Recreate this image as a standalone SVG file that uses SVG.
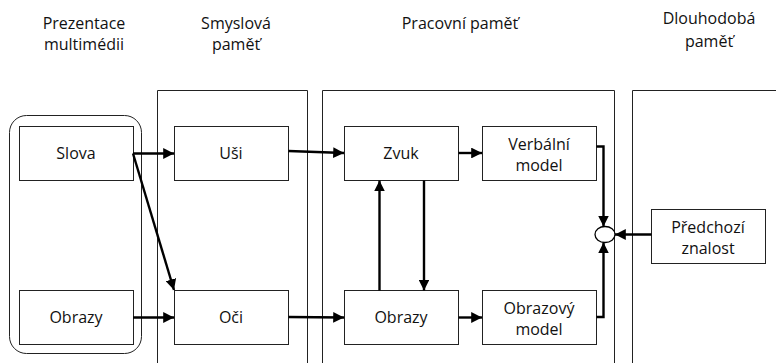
<svg xmlns="http://www.w3.org/2000/svg" width="776" height="363" viewBox="0 0 776 363">
  <defs>
    <marker id="arrow" viewBox="0 0 10 10" refX="10" refY="5" markerWidth="4.5" markerHeight="4.5" orient="auto" markerUnits="strokeWidth">
      <path d="M0,0 L10,5 L0,10 z" fill="#000"/>
    </marker>
    <style>
      text { font-family: "Open Sans", "Noto Sans", sans-serif; font-size: 16px; fill: #111; text-anchor: middle; }
      .panel { fill: none; stroke: #222; stroke-width: 1; }
      .box { fill: #fff; stroke: #222; stroke-width: 1; }
      .link { fill: none; stroke: #000; stroke-width: 2.4; }
      .arr { marker-end: url(#arrow); }
    </style>
  </defs>
  <rect width="776" height="363" fill="#fff"/>

  <!-- column headings -->
  <g id="headings">
    <text x="84" y="29">Prezentace</text>
    <text x="84" y="50">multimédii</text>
    <text x="236" y="29">Smyslová</text>
    <text x="236" y="50">paměť</text>
    <text x="460" y="29">Pracovní paměť</text>
    <text x="709" y="24">Dlouhodobá</text>
    <text x="709" y="47">paměť</text>
  </g>

  <!-- memory stage panels -->
  <g id="panels">
    <rect id="multimedia" class="panel" x="9.5" y="115.5" width="132" height="238" rx="17"/>
    <path id="sensory" class="panel" d="M157.5,364 V90.5 H307.5 V364"/>
    <path id="working" class="panel" d="M322.5,364 V90.5 H614.5 V364"/>
    <path id="longterm" class="panel" d="M632.5,364 V90.5 H777"/>
  </g>

  <g id="slova"><rect class="box" x="19.5" y="126.5" width="114" height="54"/><text x="76" y="159">Slova</text></g>
  <g id="obrazy-in"><rect class="box" x="19.5" y="290.5" width="114" height="54"/><text x="76" y="323">Obrazy</text></g>
  <g id="usi"><rect class="box" x="174.5" y="126.5" width="114" height="54"/><text x="231" y="159">Uši</text></g>
  <g id="oci"><rect class="box" x="174.5" y="290.5" width="114" height="54"/><text x="231" y="323">Oči</text></g>
  <g id="zvuk"><rect class="box" x="344.5" y="126.5" width="114" height="54"/><text x="401" y="159">Zvuk</text></g>
  <g id="obrazy-wm"><rect class="box" x="344.5" y="290.5" width="114" height="54"/><text x="401" y="323">Obrazy</text></g>
  <g id="verbalni"><rect class="box" x="482.5" y="126.5" width="114" height="54"/><text x="539" y="150">Verbální</text><text x="539" y="171">model</text></g>
  <g id="obrazovy"><rect class="box" x="482.5" y="290.5" width="114" height="54"/><text x="539" y="314">Obrazový</text><text x="539" y="335">model</text></g>
  <g id="predchozi"><rect class="box" x="651.5" y="209.5" width="114" height="54"/><text x="708" y="233">Předchozí</text><text x="708" y="254">znalost</text></g>
  <g id="integrace"><ellipse cx="605" cy="234.5" rx="10" ry="8" fill="#fff" stroke="#000" stroke-width="1.3"/></g>

  <!-- connectors -->
  <g id="connectors">
    <line class="link arr" x1="133" y1="153.5" x2="174" y2="153.5"/>
    <line class="link arr" x1="133" y1="153.5" x2="174" y2="290"/>
    <line class="link arr" x1="133" y1="317.5" x2="174" y2="317.5"/>
    <line class="link arr" x1="288.5" y1="151" x2="344" y2="153"/>
    <line class="link arr" x1="288.5" y1="317" x2="344" y2="317.5"/>
    <line class="link arr" x1="458.5" y1="153" x2="482" y2="153"/>
    <line class="link arr" x1="458.5" y1="317.5" x2="482" y2="317.5"/>
    <line class="link arr" x1="379.5" y1="290.5" x2="379.5" y2="180.5"/>
    <line class="link arr" x1="424" y1="180.5" x2="424" y2="290.5"/>
    <polyline class="link arr" points="596.5,146.5 603.5,146.5 603.5,226.5"/>
    <polyline class="link arr" points="596.5,317 603.5,317 603.5,242.5"/>
    <line class="link arr" x1="651.5" y1="234.5" x2="615" y2="234.5"/>
  </g>
</svg>
